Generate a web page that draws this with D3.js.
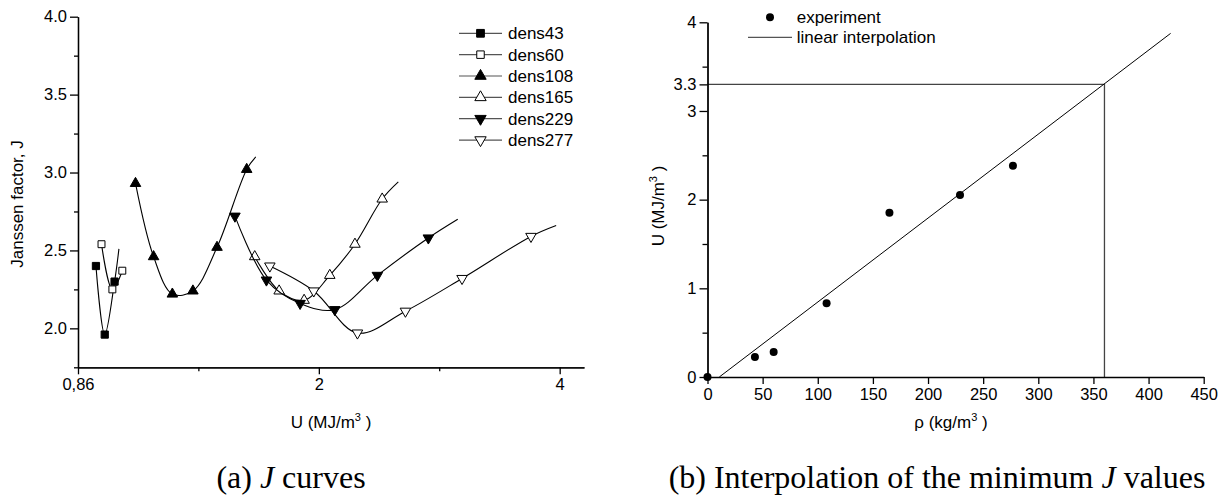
<!DOCTYPE html>
<meta charset="utf-8">
<style>
body { margin: 0; background: #fff; }
svg text { font-family: "Liberation Sans", Arial, sans-serif; fill: #000; }
.axis path, .axis line { stroke: #000; stroke-width: 1.3px; }
</style>
<body>
<svg id="fig" width="1225" height="504"></svg>
<script src="https://d3js.org/d3.v7.min.js"></script>
<script>
// ---- (a) Janssen factor curves: U (MJ/m3) vs J, last point of most series has no marker
var densNames = ["dens43", "dens60", "dens108", "dens165", "dens229", "dens277"];
var u43  = [1.053, 1.080, 1.111, 1.125],  j43  = [2.40, 1.96, 2.30, 2.51];
var u60  = [1.070, 1.104, 1.136],         j60  = [2.54, 2.25, 2.37];
var u108 = [1.180, 1.243, 1.312, 1.392, 1.492, 1.625, 1.668], j108 = [2.93, 2.46, 2.22, 2.24, 2.52, 3.02, 3.10];
var u165 = [1.663, 1.784, 1.917, 2.064, 2.219, 2.400, 2.514], j165 = [2.46, 2.24, 2.18, 2.34, 2.54, 2.83, 2.94];
var u229 = [1.571, 1.720, 1.895, 2.094, 2.367, 2.741, 2.983], j229 = [2.72, 2.31, 2.16, 2.12, 2.34, 2.58, 2.70];
var u277 = [1.737, 1.971, 2.235, 2.566, 3.020, 3.683, 3.960], j277 = [2.40, 2.24, 1.97, 2.11, 2.32, 2.59, 2.66];
var markedCount = [3, 3, 6, 6, 6, 6];
var xTicksA = [1, 2, 4], xTickLabelsA = ["0,86", "2", "4"], xMinorA = [1.414, 2.828];
var yTicksA = [2.0, 2.5, 3.0, 3.5, 4.0], yMinorA = [1.75, 2.25, 2.75, 3.25, 3.75];

// ---- (b) minimum J: density vs U
var rhoExp = [0, 43, 60, 108, 165, 229, 277];
var uExp   = [0, 0.225, 0.282, 0.831, 1.852, 2.052, 2.382];
var fitRho = [10.7, 420], fitU = [0, 3.875];
var rhoTarget = 360, uTarget = 3.3;
var xTicksB = [0, 50, 100, 150, 200, 250, 300, 350, 400, 450];
var yTicksB = [0, 1, 2, 3, 3.3, 4], yMinorB = [0.5, 1.5, 2.5, 3.5];

var svg = d3.select("#fig");

function txt(parent, x, y, anchor, size, rot) {
  return parent.append("text")
    .attr("transform", "translate(" + x + "," + y + ") rotate(" + (rot || 0) + ")")
    .attr("text-anchor", anchor).style("font-size", size + "px");
}
function unitLabel(t, pre) {
  t.append("tspan").text(pre);
  t.append("tspan").attr("dy", -7).style("font-size", "11px").text("3");
  t.append("tspan").attr("dy", 7).text(" )");
}
function fixTicks(g, side) {
  g.selectAll(".tick text").style("font-size", "16.5px");
  if (side == "left") g.selectAll(".tick text").attr("x", -11);
  else g.selectAll(".tick text").attr("y", 11);
}

// ================= (a)
var xA = d3.scaleLog().base(2).domain([1, 4.29]).range([78, 584]);
var yA = d3.scaleLinear().domain([1.75, 4.0]).range([367.3, 16.7]);
var gA = svg.append("g");

var seriesA = [[u43, j43], [u60, j60], [u108, j108], [u165, j165], [u229, j229], [u277, j277]];
var symTypes = [d3.symbolSquare, d3.symbolSquare, d3.symbolTriangle, d3.symbolTriangle, d3.symbolTriangle, d3.symbolTriangle];
var symSize = [52, 48, 48, 48, 48, 48];
var symRot = [0, 0, 0, 0, 180, 180];
var filled = [true, false, true, false, true, false];

var line = d3.line().x(function (d) { return xA(d[0]); }).y(function (d) { return yA(d[1]); })
  .curve(d3.curveCatmullRom.alpha(0.5));

seriesA.forEach(function (s, i) {
  var pts = s[0].map(function (u, k) { return [u, s[1][k]]; });
  gA.append("path").attr("d", line(pts)).attr("fill", "none").attr("stroke", "#000").attr("stroke-width", 1.1);
  gA.selectAll(null).data(pts.slice(0, markedCount[i])).enter().append("path")
    .attr("d", d3.symbol().type(symTypes[i]).size(symSize[i]))
    .attr("transform", function (d) { return "translate(" + xA(d[0]) + "," + yA(d[1]) + ") rotate(" + symRot[i] + ")"; })
    .attr("fill", filled[i] ? "#000" : "#fff").attr("stroke", "#000").attr("stroke-width", 1);
});

var axA = gA.append("g").attr("class", "axis").attr("transform", "translate(0,367.3)")
  .call(d3.axisBottom(xA).tickValues(xTicksA).tickSize(7).tickSizeOuter(0)
    .tickFormat(function (d, i) { return xTickLabelsA[i]; }));
fixTicks(axA, "bottom");
gA.append("g").attr("class", "axis").attr("transform", "translate(0,367.3)")
  .call(d3.axisBottom(xA).tickValues(xMinorA).tickSize(4).tickSizeOuter(0).tickFormat(""));
var ayA = gA.append("g").attr("class", "axis").attr("transform", "translate(78,0)")
  .call(d3.axisLeft(yA).tickValues(yTicksA).tickSize(8).tickSizeOuter(0).tickFormat(d3.format(".1f")));
fixTicks(ayA, "left");
gA.append("g").attr("class", "axis").attr("transform", "translate(78,0)")
  .call(d3.axisLeft(yA).tickValues(yMinorA).tickSize(4).tickSizeOuter(0).tickFormat(""));
svg.selectAll(".axis .domain").attr("fill", "none");

txt(gA, 23, 204, "middle", 17, -90).text("Janssen factor, J");
unitLabel(txt(gA, 331, 428, "middle", 17), "U (MJ/m");

// legend (a)
densNames.forEach(function (n, i) {
  var y = 33.3 + i * 21.35;
  gA.append("line").attr("x1", 459).attr("x2", 502).attr("y1", y).attr("y2", y)
    .attr("stroke", "#555").attr("stroke-width", 1.2);
  gA.append("path").attr("d", d3.symbol().type(symTypes[i]).size(symSize[i] + 8))
    .attr("transform", "translate(480.5," + y + ") rotate(" + symRot[i] + ")")
    .attr("fill", filled[i] ? "#000" : "#fff").attr("stroke", "#000");
  txt(gA, 508, y + 6, "start", 17).text(n);
});

// ================= (b)
var xB = d3.scaleLinear().domain([0, 450]).range([707.5, 1203.7]);
var yB = d3.scaleLinear().domain([0, 4]).range([377, 22.3]);
var gB = svg.append("g");

gB.append("path").attr("d", d3.line()([[xB(0), yB(uTarget)], [xB(rhoTarget), yB(uTarget)], [xB(rhoTarget), yB(0)]]))
  .attr("fill", "none").attr("stroke", "#444").attr("stroke-width", 1.3);
gB.append("line").attr("x1", xB(fitRho[0])).attr("y1", yB(fitU[0])).attr("x2", xB(fitRho[1])).attr("y2", yB(fitU[1]))
  .attr("stroke", "#000").attr("stroke-width", 1);
gB.selectAll(null).data(rhoExp).enter().append("circle")
  .attr("cx", function (d) { return xB(d); }).attr("cy", function (d, i) { return yB(uExp[i]); })
  .attr("r", 4).attr("fill", "#000");

var axB = gB.append("g").attr("class", "axis").attr("transform", "translate(0,377)")
  .call(d3.axisBottom(xB).tickValues(xTicksB).tickSize(7).tickSizeOuter(0));
fixTicks(axB, "bottom");
var ayB = gB.append("g").attr("class", "axis").attr("transform", "translate(707.5,0)")
  .call(d3.axisLeft(yB).tickValues(yTicksB).tickSize(8).tickSizeOuter(0).tickFormat(function (d) { return d; }));
fixTicks(ayB, "left");
gB.append("g").attr("class", "axis").attr("transform", "translate(707.5,0)")
  .call(d3.axisLeft(yB).tickValues(yMinorB).tickSize(5).tickSizeOuter(0).tickFormat(""));
svg.selectAll(".axis .domain").attr("fill", "none");

unitLabel(txt(gB, 664, 206, "middle", 17, -90), "U (MJ/m");
unitLabel(txt(gB, 951, 428, "middle", 17), "\u03c1 (kg/m");

// legend (b)
gB.append("circle").attr("cx", 770).attr("cy", 17.3).attr("r", 4).attr("fill", "#000");
txt(gB, 796.7, 23.3, "start", 17).text("experiment");
gB.append("line").attr("x1", 748).attr("x2", 792).attr("y1", 37.3).attr("y2", 37.3).attr("stroke", "#555").attr("stroke-width", 1.2);
txt(gB, 796.7, 43.3, "start", 17).text("linear interpolation");

// ================= captions
var serif = "'Liberation Serif', 'Times New Roman', serif";
var capA = txt(svg, 291, 488, "middle", 32).style("font-family", serif);
capA.append("tspan").text("(a) ");
capA.append("tspan").style("font-style", "italic").text("J");
capA.append("tspan").text(" curves");
var capB = txt(svg, 937, 488, "middle", 32).style("font-family", serif);
capB.append("tspan").text("(b) Interpolation of the minimum ");
capB.append("tspan").style("font-style", "italic").text("J");
capB.append("tspan").text(" values");
</script>
</body>
